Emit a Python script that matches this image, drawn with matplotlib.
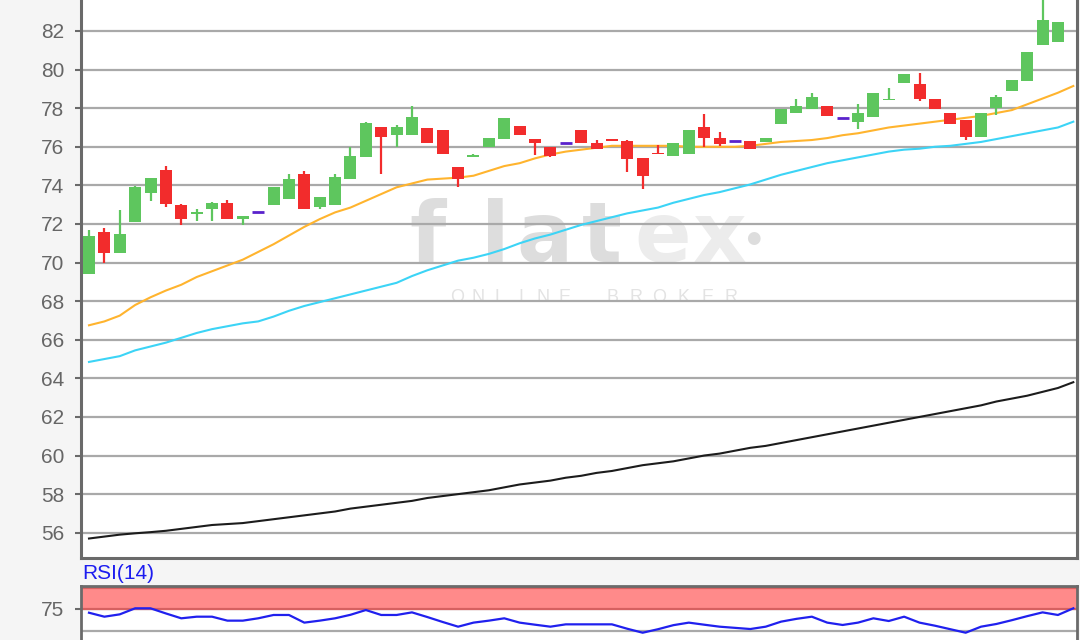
import matplotlib
matplotlib.use('Agg')
import matplotlib.pyplot as plt
import numpy as np

# ---------------- data ----------------
opens = [69.4, 71.6, 70.5, 72.1, 73.6, 74.8, 73.0, 72.5, 72.8, 73.1, 72.25, 72.6, 73.0, 73.3, 74.6, 72.9,
         73.0, 74.35, 75.45, 77.05, 76.6, 76.6, 76.95, 76.85, 74.95, 75.45, 76.0, 76.4, 77.1, 76.4, 76.0, 76.2,
         76.85, 76.2, 76.35, 76.3, 75.4, 75.7, 75.5, 75.65, 77.05, 76.45, 76.3, 76.3, 76.25, 77.2, 77.75, 77.95,
         78.1, 77.5, 77.3, 77.55, 78.4, 79.3, 79.25, 78.5, 77.75, 77.4, 76.5, 78.0, 78.9, 79.4, 81.25, 81.45]
highs = [71.7, 71.8, 72.7, 73.95, 74.4, 75.0, 73.05, 72.8, 73.15, 73.25, 72.4, 72.6, 73.9, 74.6, 74.75, 73.4,
         74.6, 76.0, 77.3, 77.05, 77.15, 78.1, 76.95, 76.85, 74.95, 75.6, 76.45, 77.5, 77.1, 76.4, 76.0, 76.2,
         76.85, 76.35, 76.35, 76.35, 75.4, 76.1, 76.2, 76.85, 77.7, 76.75, 76.3, 76.3, 76.45, 77.95, 78.5, 78.8,
         78.1, 77.5, 78.2, 78.8, 79.05, 79.75, 79.8, 78.5, 77.75, 77.4, 77.75, 78.7, 79.45, 80.9, 84.0, 82.45]
lows = [69.4, 70.0, 70.5, 72.1, 73.2, 72.9, 71.95, 72.15, 72.15, 72.25, 71.95, 72.6, 73.0, 73.3, 72.8, 72.75,
        73.0, 74.35, 75.45, 74.6, 76.0, 76.6, 76.2, 75.6, 73.9, 75.45, 76.0, 76.4, 76.6, 75.55, 75.45, 76.2,
        76.2, 75.9, 76.3, 74.7, 73.8, 75.6, 75.5, 75.65, 76.0, 76.05, 76.3, 75.9, 76.25, 77.2, 77.75, 77.95,
        77.6, 77.5, 76.9, 77.55, 78.4, 79.3, 78.35, 77.95, 77.2, 76.35, 76.5, 77.65, 78.9, 79.4, 81.25, 81.45]
closes = [71.4, 70.5, 71.5, 73.9, 74.4, 73.05, 72.25, 72.6, 73.1, 72.25, 72.4, 72.6, 73.9, 74.35, 72.8, 73.4,
          74.45, 75.5, 77.25, 76.5, 77.05, 77.55, 76.2, 75.6, 74.35, 75.5, 76.45, 77.5, 76.6, 76.2, 75.5, 76.2,
          76.2, 75.9, 76.3, 75.35, 74.5, 75.6, 76.2, 76.85, 76.45, 76.15, 76.3, 75.9, 76.45, 77.95, 78.1, 78.6,
          77.6, 77.5, 77.75, 78.8, 78.45, 79.75, 78.45, 77.95, 77.2, 76.5, 77.75, 78.6, 79.45, 80.9, 82.55, 82.45]

ma_orange = [66.75, 66.95, 67.25, 67.8, 68.2, 68.55, 68.85, 69.25, 69.55, 69.85, 70.15, 70.55, 70.95, 71.4,
             71.85, 72.25, 72.6, 72.85, 73.2, 73.55, 73.9, 74.1, 74.3, 74.35, 74.4, 74.5, 74.75, 75.0, 75.15,
             75.4, 75.6, 75.75, 75.85, 75.95, 76.05, 76.05, 76.05, 76.05, 76.05, 76.0, 76.0, 76.0, 76.0, 76.05,
             76.15, 76.25, 76.3, 76.35, 76.45, 76.6, 76.7, 76.85, 77.0, 77.1, 77.2, 77.3, 77.4, 77.5, 77.6,
             77.75, 77.9, 78.2, 78.5, 78.8, 79.15]
ma_cyan = [64.85, 65.0, 65.15, 65.45, 65.65, 65.85, 66.1, 66.35, 66.55, 66.7, 66.85, 66.95, 67.2, 67.5,
           67.75, 67.95, 68.15, 68.35, 68.55, 68.75, 68.95, 69.3, 69.6, 69.85, 70.1, 70.25, 70.45, 70.7, 71.0,
           71.25, 71.45, 71.7, 71.95, 72.15, 72.35, 72.55, 72.7, 72.85, 73.1, 73.3, 73.5, 73.65, 73.85, 74.05,
           74.3, 74.55, 74.75, 74.95, 75.15, 75.3, 75.45, 75.6, 75.75, 75.85, 75.9, 76.0, 76.05, 76.15, 76.25,
           76.4, 76.55, 76.7, 76.85, 77.0, 77.3]
ma_black = [55.7, 55.8, 55.9, 55.97, 56.03, 56.1, 56.2, 56.3, 56.4, 56.45, 56.5, 56.6, 56.7, 56.8, 56.9,
            57.0, 57.1, 57.25, 57.35, 57.45, 57.55, 57.65, 57.8, 57.9, 58.0, 58.1, 58.2, 58.35, 58.5, 58.6,
            58.7, 58.85, 58.95, 59.1, 59.2, 59.35, 59.5, 59.6, 59.7, 59.85, 60.0, 60.1, 60.25, 60.4, 60.5,
            60.65, 60.8, 60.95, 61.1, 61.25, 61.4, 61.55, 61.7, 61.85, 62.0, 62.15, 62.3, 62.45, 62.6, 62.8,
            62.95, 63.1, 63.3, 63.5, 63.8]
rsi = [70.3, 65.9, 68.5, 75.2, 75.2, 69.5, 64.1, 65.9, 65.9, 61.5, 61.5, 64.1, 67.8, 67.8, 59.3, 61.5,
       64.1, 68.0, 73.3, 67.8, 67.8, 70.7, 65.5, 60.0, 54.8, 59.3, 61.5, 64.1, 59.3, 57.0, 54.8, 57.4,
       57.4, 57.4, 57.4, 52.5, 48.1, 52.0, 56.5, 59.3, 57.0, 54.8, 53.5, 52.2, 54.8, 60.4, 63.5, 65.9,
       59.3, 56.7, 59.3, 64.1, 61.1, 65.9, 59.3, 55.9, 52.0, 48.1, 54.8, 57.8, 62.0, 66.5, 70.7, 67.8, 75.2]

price_ticks = [56, 58, 60, 62, 64, 66, 68, 70, 72, 74, 76, 78, 80, 82, 84]
rsi_ticks = [75]
rsi_grid = [25, 50, 75]
rsi_zone = (75, 100)
rsi_label = 'RSI(14)'

# ---------------- style ----------------
W, H = 1080, 640
GREEN = '#5ec65e'
RED = '#f22c2c'
PURPLE = '#5a22cc'
GRID = '#a9a9a9'
SPINE = '#6a6a6a'
FONT = 'Liberation Sans'

fig = plt.figure(figsize=(W / 100, H / 100), dpi=100, facecolor='#f5f5f5')


def px_rect(l, t, r, b):
    return [l / W, 1 - b / H, (r - l) / W, (b - t) / H]


XLIM = (-0.52, 64.24)

ax = fig.add_axes(px_rect(81, -26.9, 1077, 558))
ax.set_facecolor('white')
ax.set_xlim(*XLIM)
ax.set_ylim(54.69, 85.0)
ax.set_yticks(price_ticks)
ax.set_yticklabels([str(t) for t in price_ticks], fontfamily=FONT)
ax.set_xticks([])
ax.yaxis.grid(True, color=GRID, lw=1.6)
ax.set_axisbelow(True)
for s in ['left', 'bottom', 'right']:
    ax.spines[s].set_color(SPINE)
    ax.spines[s].set_linewidth(2.2)
ax.spines['top'].set_visible(False)
ax.tick_params(axis='y', length=4, width=1.5, color=SPINE, labelsize=15,
               labelcolor='#666666', pad=8)

# watermark
wm_dark = '#dddddd'
wm_light = '#ececec'
for ch, cx, col in [('f', 428, wm_dark), ('l', 495, wm_dark), ('a', 545, wm_dark),
                    ('t', 602, wm_dark), ('e', 663, wm_light), ('x', 720, wm_light)]:
    ax.text(cx / W, 1 - 262 / H, ch, transform=fig.transFigure, ha='center', va='baseline',
            fontsize=60, fontweight='bold', color=col, family='DejaVu Sans', zorder=0.2)
ax.text(753 / W, 1 - 238 / H, '\u25CF', transform=fig.transFigure, ha='center', va='center',
        fontsize=12, color=wm_dark, family='DejaVu Sans', zorder=0.2)
for i, ch in enumerate('ONLINE'):
    ax.text((457 + i * 21.4) / W, 1 - 298 / H, ch, transform=fig.transFigure, ha='center',
            va='center', fontsize=13, color='#e3e3e3', family=FONT, zorder=0.2)
for i, ch in enumerate('BROKER'):
    ax.text((612 + i * 23.8) / W, 1 - 298 / H, ch, transform=fig.transFigure, ha='center',
            va='center', fontsize=13, color='#e3e3e3', family=FONT, zorder=0.2)

# moving averages
x_ma = np.arange(len(ma_orange))
ax.plot(x_ma, ma_black, color='#1c1c1c', lw=1.5, zorder=2)
ax.plot(x_ma, ma_cyan, color='#3cd4f6', lw=1.5, zorder=2)
ax.plot(x_ma, ma_orange, color='#ffb42e', lw=1.5, zorder=2)

# candles
BW = 0.78
MINH = 0.1
for i, (o, h, l, c) in enumerate(zip(opens, highs, lows, closes)):
    if o == c:
        ax.hlines(o, i - BW / 2, i + BW / 2, color=PURPLE, lw=2.0, zorder=3)
        if h > l:
            ax.vlines(i, l, h, color=PURPLE, lw=1.5, zorder=3)
        continue
    col = GREEN if c > o else RED
    bot = min(o, c)
    ht = max(abs(c - o), MINH)
    if h > l:
        ax.vlines(i, l, h, color=col, lw=1.6, zorder=3)
    ax.bar(i, ht, bottom=bot, width=BW, color=col, edgecolor='none', zorder=4)

# ---------------- RSI panel ----------------
rax = fig.add_axes(px_rect(81, 586, 1077, 676))
rax.set_facecolor('white')
rax.set_xlim(*XLIM)
rax.set_ylim(0, 100)
rax.set_xticks([])
rax.set_yticks(rsi_ticks)
rax.set_yticklabels([str(t) for t in rsi_ticks], fontfamily=FONT)
rax.tick_params(axis='y', length=4, width=1.5, color=SPINE, labelsize=15,
                labelcolor='#666666', pad=8)
for yv in rsi_grid:
    rax.axhline(yv, color=GRID, lw=1.6, zorder=0.5)
rax.axhspan(rsi_zone[0], rsi_zone[1], color='#ff8a8a', lw=0, zorder=0.6)
rax.axhline(rsi_zone[0], color='#d66060', lw=1.6, zorder=0.7)
rax.axhline(rsi_zone[1] - 2, color='#d66060', lw=1.6, zorder=0.7)
for s in ['left', 'bottom', 'right', 'top']:
    rax.spines[s].set_color(SPINE)
    rax.spines[s].set_linewidth(2.0)
rax.plot(np.arange(len(rsi)), rsi, color='#2020ee', lw=1.6, zorder=3)

fig.text(82 / W, 1 - 579 / H, rsi_label, color='#1c1cf0', fontsize=15, family=FONT,
         ha='left', va='baseline')

fig.savefig('out.png', dpi=100, facecolor=fig.get_facecolor())
